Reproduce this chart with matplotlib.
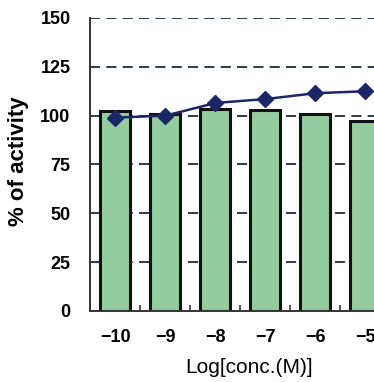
import matplotlib
matplotlib.use("Agg")
import matplotlib.pyplot as plt

# values
log_conc = [-10, -9, -8, -7, -6, -5]
bar_activity = [102.5, 101, 103.5, 103, 101, 97.5]
line_activity = [99, 100, 106.5, 108.5, 111.5, 112.5]
y_ticks = [0, 25, 50, 75, 100, 125, 150]

plt.rcParams["font.family"] = ["Liberation Sans", "DejaVu Sans"]

fig = plt.figure(figsize=(3.74, 3.82), dpi=100)
ax = fig.add_axes([0.2406, 0.1859, 0.7594, 0.767])

# dashed horizontal grid behind the bars
for v in y_ticks[1:]:
    ax.axhline(v, color="#2e3853", lw=1.4, ls=(0, (5.2, 3.2)), zorder=0)

ax.bar(log_conc, bar_activity, width=0.6, color="#93cc9f",
       edgecolor="#111111", linewidth=2.2, zorder=2)
ax.plot(log_conc, line_activity, color="#1b2766", lw=1.8, marker="D",
        markersize=8, markerfacecolor="#1b2766", markeredgecolor="#1b2766", zorder=3)

ax.set_xlim(-10.51, -4.83)
ax.set_ylim(0, 150)

ax.set_yticks(y_ticks)
ax.set_yticklabels([str(v) for v in y_ticks], fontsize=13, fontweight="bold")
ax.set_xticks(log_conc)
ax.set_xticklabels(["\u221210", "\u22129", "\u22128", "\u22127", "\u22126", "\u22125"],
                   fontsize=13, fontweight="bold")
ax.set_xticks([x + 0.5 for x in log_conc[:-1]], minor=True)

ax.tick_params(axis="y", direction="in", length=0, pad=14)
ax.tick_params(axis="x", which="major", length=0, pad=13)
ax.tick_params(axis="x", which="minor", direction="in", length=4, width=1.2, color="#333333")

for s in ["top", "right"]:
    ax.spines[s].set_visible(False)
ax.spines["left"].set_color("#333333")
ax.spines["left"].set_linewidth(1.4)
ax.spines["bottom"].set_color("#333333")
ax.spines["bottom"].set_linewidth(1.4)

ax.set_ylabel("% of activity", fontsize=16, fontweight="bold")
ax.yaxis.set_label_coords(-0.215, 0.51)
ax.set_xlabel("Log[conc.(M)]", fontsize=15)
ax.xaxis.set_label_coords(0.56, -0.162)

fig.savefig("out.png", dpi=100)
